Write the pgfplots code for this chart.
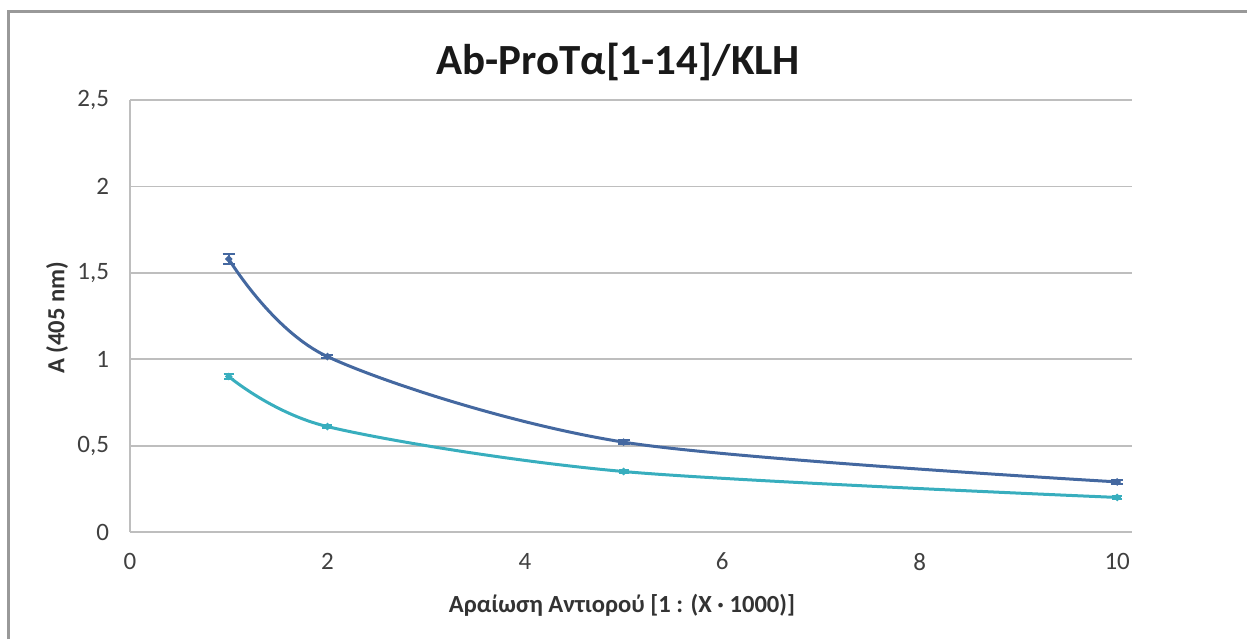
\documentclass[border=0pt]{standalone}
\usepackage{pgfplots}
\pgfplotsset{compat=1.18}
\usepackage{fontspec}
\setmainfont{Carlito}
\definecolor{sblue}{RGB}{68,104,160}
\definecolor{steal}{RGB}{56,174,190}
\definecolor{gridg}{RGB}{190,190,190}
\definecolor{tickg}{RGB}{64,64,64}
\begin{document}
\begin{tikzpicture}[x=1bp,y=1bp]
\useasboundingbox (0,0) rectangle (623.5,319.5);
\draw[gray!80, line width=1.5bp] (4,0) -- (4,313.5) -- (623.5,313.5);
\begin{axis}[
  at={(65bp,53.5bp)}, anchor=south west,
  scale only axis, width=501bp, height=216bp,
  xmin=0, xmax=10.15, ymin=0, ymax=2.5,
  xtick={0,2,4,6,8,10},
  ytick={0,0.5,1,1.5,2,2.5},
  yticklabels={0,{0,5},1,{1,5},2,{2,5}},
  /pgf/number format/assume math mode=true,
  ticklabel style={font=\fontsize{12.5bp}{15bp}\selectfont, text=tickg},
  xticklabel style={yshift=-7bp},
  yticklabel style={xshift=-7bp},
  major tick length=0pt,
  axis x line=bottom, axis y line=left,
  axis line style={gridg, line width=0.9bp, -},
  ymajorgrids, major grid style={gridg, line width=0.9bp},
  clip=false,
]
\addplot+[sblue, line width=1.5bp, smooth, tension=0.5, mark=*, mark size=0.9bp,
  mark options={fill=sblue, draw=sblue},
  error bars/.cd, y dir=both, y explicit,
  error bar style={sblue, line width=1bp}, error mark options={rotate=90, mark size=3bp, sblue, line width=1bp}]
  coordinates {(1,1.58) +- (0,0.03) (2,1.015) +- (0,0.01) (5,0.52) +- (0,0.012) (10,0.29) +- (0,0.01)};
\addplot+[steal, line width=1.5bp, smooth, tension=0.5, mark=*, mark size=0.9bp,
  mark options={fill=steal, draw=steal},
  error bars/.cd, y dir=both, y explicit,
  error bar style={steal, line width=1bp}, error mark options={rotate=90, mark size=2.5bp, steal, line width=1bp}]
  coordinates {(1,0.90) +- (0,0.012) (2,0.61) +- (0,0.008) (5,0.35) +- (0,0.008) (10,0.20) +- (0,0.01)};
\end{axis}
\node[font=\bfseries\fontsize{21.5bp}{25bp}\selectfont, text=black!90] at (309,288.5) {Ab-ProTα[1-14]/KLH};
\node[font=\bfseries\fontsize{12.3bp}{14bp}\selectfont, text=tickg!80!black, rotate=90] at (28.5,160.5) {A (405 nm)};
\node[font=\bfseries\fontsize{12.3bp}{14bp}\selectfont, text=tickg!80!black] at (311,17) {Αραίωση Αντιορού [1 : (X · 1000)]};
\end{tikzpicture}
\end{document}
